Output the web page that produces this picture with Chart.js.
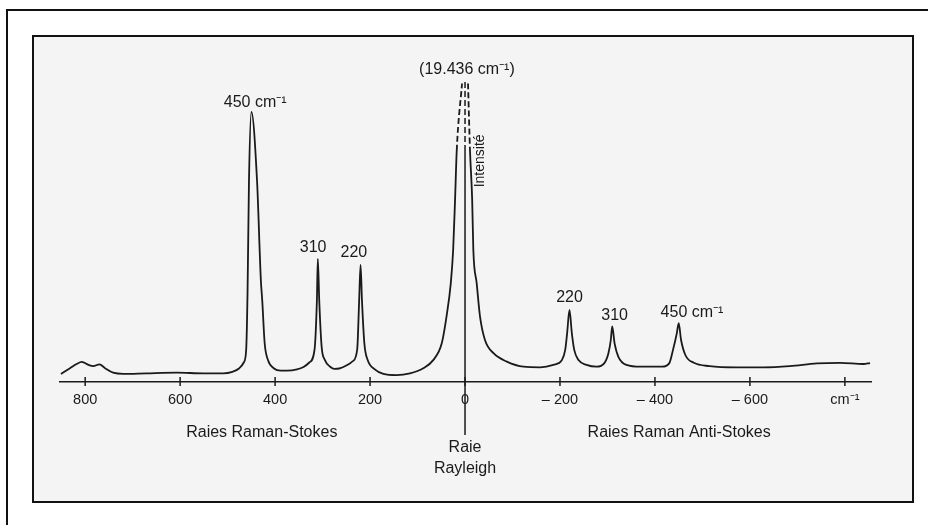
<!DOCTYPE html>
<html>
<head>
<meta charset="utf-8">
<title>Raies Raman</title>
<script src="https://cdn.jsdelivr.net/npm/chart.js@4.4.1/dist/chart.umd.min.js"></script>
<style>
    html, body { margin: 0; padding: 0; background: #fff; overflow: hidden; }
    #page { position: relative; width: 928px; height: 525px; overflow: hidden; }
    #outer { position: absolute; left: 6px; top: 9px; width: 960px; height: 560px; border: 2px solid #111; }
    #inner { position: absolute; left: 32px; top: 35px; width: 878px; height: 464px; border: 2px solid #111; background: #f4f4f4; }
    #spectrum { position: absolute; left: 0; top: 0; }
</style>
</head>
<body>
<div id="page">
    <div id="outer"></div>
    <div id="inner"></div>
    <canvas id="spectrum" width="928" height="525"></canvas>
</div>
<script>
// Raman shift (cm-1) and relative intensity of the traced spectrum; null breaks the line at the Rayleigh top
const ramanShift = [
    851, 832, 818, 807, 793, 783, 770, 758, 741, 720, 670, 607, 551, 509, 490, 476, 466, 461, 458, 455, 450,
    438, 430, 427, 422, 415, 403, 388, 375, 354, 340, 328, 317, 312, 310, 307, 302, 295, 284, 275,
    265, 250, 236, 227, 223, 220, 217, 212, 205, 190, 172, 144, 116, 88, 67, 49, 39, 30, 25, 21, 17.5, 6.3,
    0,
    -6.3, -10.5, -15, -17.5, -24.6, -31.6, -42, -60, -88, -123, -158, -186, -204, -211, -215, -220,
    -225, -230, -239, -256, -277, -293, -302, -307, -310, -315, -323, -340, -370, -415, -430, -438, -446, -450,
    -455, -464, -482, -515, -572, -628, -684, -741, -790, -839, -853
];
const intensity = [
    2.7, 4.6, 6, 6.7, 5.7, 5.3, 5.9, 4.6, 3.1, 2.7, 2.9, 3.1, 2.9, 2.9, 3.4, 4.5, 6.5, 10.5, 30, 67, 90,
    67, 34, 27, 13, 7.3, 4.6, 3.8, 3.8, 4.2, 5, 6.5, 10.7, 27, 41, 27, 11.8, 7.3, 5.1, 4.4,
    4.5, 5.5, 7, 11, 27, 39, 27, 12.9, 7.3, 4.2, 2.7, 2.3, 2.9, 4.6, 7.3, 12.9, 21.8, 32.9, 44, 60.7, 77, 99.5,
    null,
    99.5, 77, 61, 44, 32.9, 21.8, 14, 9.6, 6.8, 5.1, 4.9, 5.7, 7.3, 10.7, 16.2, 24,
    16.2, 10.7, 7.3, 5.7, 5.1, 6.2, 9.6, 14, 18.5, 12.9, 8.4, 5.7, 5.1, 5.1, 6.2, 10.7, 16.2, 19.6,
    14, 9, 6.4, 5.3, 4.9, 4.9, 5.3, 6.2, 6.4, 6, 6.3
];

const tickValues = [800, 600, 400, 200, 0, -200, -400, -600, -800];
const tickLabels = ['800', '600', '400', '200', '0', '– 200', '– 400', '– 600', 'cm⁻¹'];

const peakLabelText = ['450 cm⁻¹', '310', '220', '(19.436 cm⁻¹)', '220', '310', '450 cm⁻¹'];
const peakLabelX = [442, 320, 234, -4, -220, -315, -478];
const peakLabelY = [93, 44.7, 43, 104, 28, 22.3, 23.3];

const regionLabelText = ['Raies Raman-Stokes', 'Raies Raman Anti-Stokes', 'Raie', 'Rayleigh'];
const regionLabelX = [428, -451, 0, 0];
const regionLabelY = [-17, -17, -22, -29];

const INK = '#1a1a1a';
const FONT = '"Liberation Sans", Arial, Helvetica, sans-serif';

const ramanMarks = {
    id: 'ramanMarks',
    afterDatasetsDraw: function (chart) {
        var c = chart.ctx, xs = chart.scales.x, ys = chart.scales.y, area = chart.chartArea;
        c.save();
        c.strokeStyle = INK;
        c.fillStyle = INK;

        // short ticks crossing the baseline
        c.lineWidth = 1.5;
        tickValues.forEach(function (v) {
            var px = xs.getPixelForValue(v);
            c.beginPath();
            c.moveTo(px, area.bottom - 5);
            c.lineTo(px, area.bottom + 4);
            c.stroke();
        });

        // intensity axis at 0, broken near the top
        var x0 = xs.getPixelForValue(0);
        var yBreak = ys.getPixelForValue(77);
        c.setLineDash([6, 3]);
        c.beginPath();
        c.moveTo(x0, area.top);
        c.lineTo(x0, yBreak);
        c.stroke();
        c.setLineDash([]);
        c.beginPath();
        c.moveTo(x0, yBreak);
        c.lineTo(x0, area.bottom + 53);
        c.stroke();

        c.textAlign = 'center';
        c.textBaseline = 'middle';
        c.font = '16px ' + FONT;
        peakLabelText.forEach(function (t, i) {
            c.fillText(t, xs.getPixelForValue(peakLabelX[i]), ys.getPixelForValue(peakLabelY[i]));
        });
        regionLabelText.forEach(function (t, i) {
            c.fillText(t, xs.getPixelForValue(regionLabelX[i]), ys.getPixelForValue(regionLabelY[i]));
        });

        c.save();
        c.translate(xs.getPixelForValue(-31.6), ys.getPixelForValue(73.7));
        c.rotate(-Math.PI / 2);
        c.font = '14px ' + FONT;
        c.fillText('Intensité', 0, 0);
        c.restore();

        c.restore();
    }
};

function renderSpectrum(id) {
    try {
        if (typeof Chart === 'undefined') {
            console.warn('Chart.js not available; skipping renderSpectrum for', id);
            return;
        }
        var el = document.getElementById(id);
        if (!el) {
            console.warn('Canvas element not found for id', id);
            return;
        }
        const ctx = el.getContext('2d');
        const points = ramanShift.map(function (x, i) { return { x: x, y: intensity[i] }; });

        new Chart(ctx, {
            type: 'line',
            data: {
                datasets: [{
                    data: points,
                    borderColor: INK,
                    borderWidth: 1.8,
                    pointRadius: 0,
                    fill: false,
                    cubicInterpolationMode: 'monotone',
                    spanGaps: false,
                    parsing: false,
                    clip: false,
                    segment: {
                        borderDash: function (s) {
                            return (s.p0.parsed.y > 76 && s.p1.parsed.y > 76) ? [6, 3] : undefined;
                        }
                    }
                }]
            },
            options: {
                responsive: false,
                animation: false,
                layout: { padding: { left: 60, right: 57, top: 82, bottom: 0 } },
                plugins: {
                    legend: { display: false },
                    tooltip: { enabled: false }
                },
                scales: {
                    x: {
                        type: 'linear',
                        reverse: true,
                        min: -855,
                        max: 853,
                        afterBuildTicks: function (s) { s.ticks = tickValues.map(function (v) { return { value: v }; }); },
                        afterFit: function (s) { s.height = 143; },
                        grid: { display: false, drawTicks: false },
                        border: { display: true, color: INK, width: 1.5, dash: [9, 2] },
                        ticks: {
                            padding: 9,
                            color: INK,
                            maxRotation: 0,
                            autoSkip: false,
                            font: { family: FONT, size: 14.5 },
                            callback: function (v) { return tickLabels[tickValues.indexOf(v)]; }
                        }
                    },
                    y: { display: false, min: 0, max: 100 }
                }
            },
            plugins: [ramanMarks]
        });
    } catch (e) { console.error(e); }
}

renderSpectrum('spectrum');
</script>
</body>
</html>
